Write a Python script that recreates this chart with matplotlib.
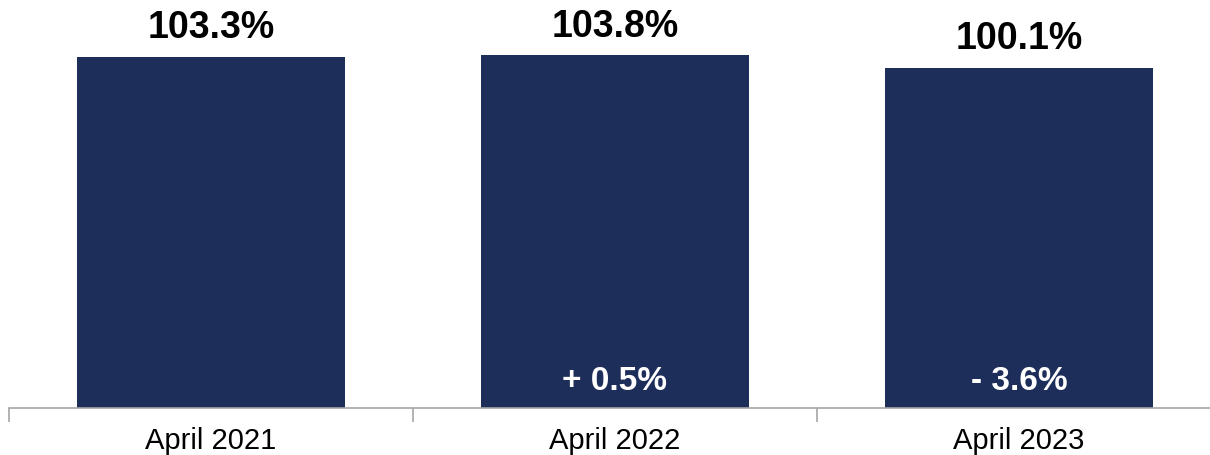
import matplotlib.pyplot as plt
import numpy as np

plt.rcParams['font.family'] = ['Liberation Sans', 'DejaVu Sans']

# datos
periodos = ['April 2021', 'April 2022', 'April 2023']
valores = [103.3, 103.8, 100.1]
cambios = ['', '+ 0.5%', '- 3.6%']

color_barra = '#1E2E5B'
color_eje = '#A6A6A6'

fig = plt.figure(figsize=(12.1, 4.56), dpi=100)
# el eje se extiende un poco mas alla del borde derecho
ax = fig.add_axes([9 / 1210, 47 / 456, 1212 / 1210, 409 / 456])

x = np.arange(len(periodos))
ax.bar(x, valores, width=0.665, color=color_barra)

# etiquetas de valor encima de cada barra
for i, v in zip(x, valores):
    ax.annotate(f'{v:.1f}%', xy=(i, v), xytext=(0, 14), textcoords='offset points',
                ha='center', va='baseline', fontsize=27, fontweight='bold', color='black')

# variacion dentro de la barra
for i, c in zip(x, cambios):
    if c:
        ax.annotate(c, xy=(i, 0), xytext=(0, 13.5), textcoords='offset points',
                    ha='center', va='baseline', fontsize=24, fontweight='bold', color='white')

ax.set_xlim(-0.5, 2.5)
ax.set_ylim(0, 120.3)
ax.set_yticks([])
for lado in ['top', 'right', 'left']:
    ax.spines[lado].set_visible(False)
ax.spines['bottom'].set_color(color_eje)
ax.spines['bottom'].set_linewidth(1.2)

ax.set_xticks([-0.5, 0.5, 1.5, 2.5])
ax.set_xticklabels([])
ax.set_xticks(x, minor=True)
ax.set_xticklabels(periodos, minor=True, fontsize=21)
ax.tick_params(axis='x', which='major', length=10, width=1.2, color=color_eje, direction='out')
ax.tick_params(axis='x', which='minor', length=0, pad=13)

fig.savefig('out.png', dpi=100)
